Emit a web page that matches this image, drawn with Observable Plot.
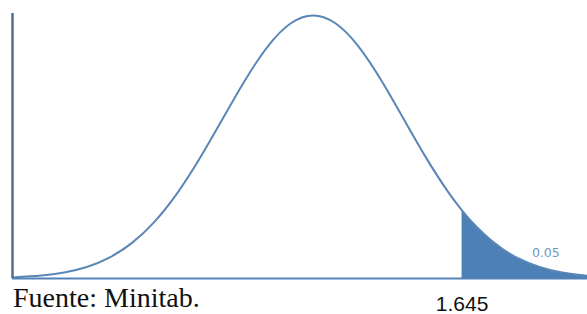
<!DOCTYPE html>
<html>
<head>
<meta charset="utf-8">
<script src="https://cdn.jsdelivr.net/npm/d3@7"></script>
<script src="https://cdn.jsdelivr.net/npm/@observablehq/plot@0.6"></script>
<style>
  html, body { margin: 0; padding: 0; background: #fff; }
  #wrap { position: relative; width: 587px; height: 314px; }
  #caption { position: absolute; left: 13px; top: 284px; font-size: 28px; line-height: 28px; color: #111;
             white-space: nowrap; font-family: "Liberation Serif", "Times New Roman", serif; }
</style>
</head>
<body>
<div id="wrap"><div id="chart"></div><div id="caption"></div></div>
<script>
// Standard normal density (z, density)
const zValues = [-3.32, -3.0, -2.75, -2.5, -2.25, -2.0, -1.75, -1.5, -1.25, -1.0, -0.75, -0.5, -0.25, 0,
                 0.25, 0.5, 0.75, 1.0, 1.25, 1.5, 1.645, 1.75, 2.0, 2.25, 2.5, 2.75, 3.0, 3.03];
const densityValues = [0.0016, 0.0044, 0.0091, 0.0175, 0.0317, 0.0540, 0.0863, 0.1295, 0.1826, 0.2420, 0.3011, 0.3521, 0.3867, 0.3989,
                       0.3867, 0.3521, 0.3011, 0.2420, 0.1826, 0.1295, 0.1031, 0.0863, 0.0540, 0.0317, 0.0175, 0.0091, 0.0044, 0.0040];
const criticalValue = [1.645];
const criticalLabel = ["1.645"];
const tailArea = [{z: 2.57, d: 0.038, label: "0.05"}];
const captionText = ["Fuente: Minitab."];

const curve = zValues.map((z, i) => ({z, d: densityValues[i]}));
const tail = curve.filter(p => p.z >= criticalValue[0]);
const xDomain = [zValues[0], zValues[zValues.length - 1]];

const chart = Plot.plot({
  width: 587,
  height: 314,
  marginLeft: 12,
  marginRight: 0,
  marginTop: 15,
  marginBottom: 36,
  x: {domain: xDomain, axis: null},
  y: {domain: [0, 0.3989], axis: null},
  style: {background: "#fff", overflow: "visible"},
  marks: [
    Plot.areaY(tail, {x: "z", y: "d", fill: "#4d80b7", curve: "natural"}),
    Plot.lineY(curve, {x: "z", y: "d", stroke: "#5a86b6", strokeWidth: 2, curve: "natural"}),
    Plot.ruleY([0], {stroke: "#5382b8", strokeWidth: 2}),
    Plot.ruleX([xDomain[0]], {stroke: "#4a6b8c", strokeWidth: 2.4, y1: 0, y2: 0.402}),
    Plot.text(tailArea, {x: "z", y: "d", text: "label", fill: "#7096bf", fontSize: 12.5,
      fontFamily: "DejaVu Sans", textAnchor: "middle"}),
    Plot.text(criticalLabel, {x: () => criticalValue[0], frameAnchor: "bottom", text: d => d,
      lineAnchor: "bottom", dy: 32.5, fontSize: 21, fontFamily: "Liberation Sans", fill: "#111"})
  ]
});
document.getElementById("chart").appendChild(chart);
// Caption below the plot
document.getElementById("caption").textContent = captionText[0];
</script>
</body>
</html>
